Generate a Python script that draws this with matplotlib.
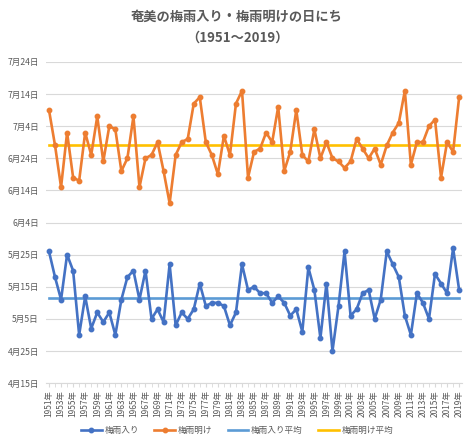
import datetime
import matplotlib
matplotlib.use("Agg")
import matplotlib.pyplot as plt
import matplotlib.ticker as ticker
import numpy as np

plt.rcParams['font.family'] = ['Noto Sans CJK JP', 'DejaVu Sans']

years = list(range(1951, 2020))

# 梅雨入り (month/day)
iri = ["5/26", "5/18", "5/11", "5/25", "5/20", "4/30", "5/12", "5/2", "5/7", "5/4",
       "5/7", "4/30", "5/11", "5/18", "5/20", "5/11", "5/20", "5/5", "5/8", "5/4",
       "5/22", "5/3", "5/7", "5/5", "5/8", "5/16", "5/9", "5/10", "5/10", "5/9",
       "5/3", "5/7", "5/22", "5/14", "5/15", "5/13", "5/13", "5/10", "5/12", "5/10",
       "5/6", "5/8", "5/1", "5/21", "5/14", "4/29", "5/16", "4/25", "5/9", "5/26",
       "5/6", "5/8", "5/13", "5/14", "5/5", "5/11", "5/26", "5/22", "5/18", "5/6",
       "4/30", "5/13", "5/10", "5/5", "5/19", "5/16", "5/13", "5/27", "5/14"]

# 梅雨明け (month/day)
ake = ["7/9", "6/28", "6/15", "7/2", "6/18", "6/17", "7/2", "6/25", "7/7", "6/23",
       "7/4", "7/3", "6/20", "6/24", "7/7", "6/15", "6/24", "6/25", "6/29", "6/20",
       "6/10", "6/25", "6/29", "6/30", "7/11", "7/13", "6/29", "6/25", "6/19", "7/1",
       "6/25", "7/11", "7/15", "6/18", "6/26", "6/27", "7/2", "6/29", "7/10", "6/20",
       "6/26", "7/9", "6/25", "6/23", "7/3", "6/24", "6/29", "6/24", "6/23", "6/21",
       "6/23", "6/30", "6/27", "6/24", "6/27", "6/22", "6/28", "7/2", "7/5", "7/15",
       "6/22", "6/29", "6/29", "7/4", "7/6", "6/18", "6/29", "6/26", "7/13"]


def to_num(s):
    m, d = s.split("/")
    return datetime.date(2001, int(m), int(d)).toordinal()


def fmt(v, pos):
    d = datetime.date.fromordinal(int(round(v)))
    return f"{d.month}月{d.day}日"


y_iri = np.array([to_num(s) for s in iri])
y_ake = np.array([to_num(s) for s in ake])
avg_iri = np.full(len(years), y_iri.mean())
avg_ake = np.full(len(years), y_ake.mean())

c_iri = "#4472C4"
c_ake = "#ED7D31"
c_iri_avg = "#5B9BD5"
c_ake_avg = "#FFC000"
txt = "#595959"

fig = plt.figure(figsize=(4.74, 4.45), dpi=100)
ax = fig.add_axes([0.097, 0.139, 0.878, 0.722])

ax.plot(years, y_iri, color=c_iri, lw=1.9, marker="o", ms=3.2, label="梅雨入り", zorder=3)
ax.plot(years, y_ake, color=c_ake, lw=1.9, marker="o", ms=3.2, label="梅雨明け", zorder=3)
ax.plot(years, avg_iri, color=c_iri_avg, lw=1.9, label="梅雨入り平均", zorder=2)
ax.plot(years, avg_ake, color=c_ake_avg, lw=1.9, label="梅雨明け平均", zorder=2)

y0 = to_num("4/15")
ax.set_ylim(y0, y0 + 100)
ax.yaxis.set_major_locator(ticker.FixedLocator(np.arange(y0, y0 + 101, 10)))
ax.yaxis.set_major_formatter(ticker.FuncFormatter(fmt))
ax.set_xlim(1950.5, 2019.5)
ax.set_xticks(years[::2])
ax.set_xticklabels([f"{y}年" for y in years[::2]], rotation=90)
ax.set_xticks(years, minor=True)

ax.grid(axis="y", color="#D9D9D9", lw=0.8)
ax.set_axisbelow(True)
for s in ["top", "right", "left"]:
    ax.spines[s].set_visible(False)
ax.spines["bottom"].set_color("#D9D9D9")
ax.spines["bottom"].set_linewidth(0.8)
ax.tick_params(axis="y", length=0, labelsize=6.2, labelcolor=txt, pad=5)
ax.tick_params(axis="x", which="both", length=3, color="#D9D9D9", labelsize=6, labelcolor=txt, pad=2)

fig.text(0.5, 0.962, "奄美の梅雨入り・梅雨明けの日にち", ha="center", va="center",
         fontsize=9.5, fontweight="bold", color=txt)
fig.text(0.5, 0.915, "（1951～2019）", ha="center", va="center",
         fontsize=9.5, fontweight="bold", color=txt)

fig.legend(loc="center", bbox_to_anchor=(0.5, 0.033), ncol=4, frameon=False,
           fontsize=6.2, handlelength=2.4, handletextpad=0.3, columnspacing=1.8,
           labelcolor=txt)

fig.savefig("out.png", dpi=100, facecolor="white")
